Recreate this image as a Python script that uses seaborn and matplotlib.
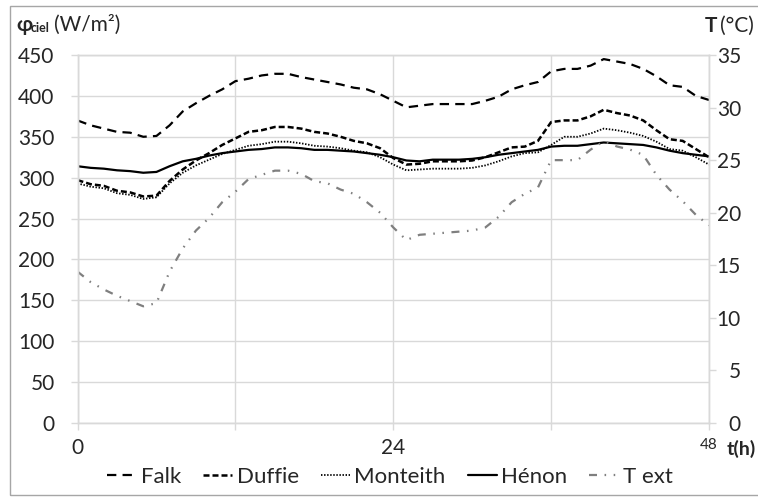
import matplotlib
matplotlib.use("Agg")
import matplotlib.pyplot as plt
from matplotlib.patches import Rectangle
from matplotlib.lines import Line2D
import seaborn as sns
import numpy as np
import pandas as pd

# hourly values
hours = list(range(49))

falk = [370, 364, 360, 356, 355, 350, 351, 364, 381, 391, 400, 408, 418, 421, 425, 427, 427,
        423, 420, 417, 414, 410, 408, 402, 394, 386, 388, 390, 390, 390, 390, 394, 399, 408,
        413, 417, 430, 433, 433, 437, 445, 442, 439, 433, 424, 413, 411, 400, 395]
duffie = [297, 292, 290, 284, 282, 277, 278, 296, 310, 321, 330, 340, 348, 356, 358, 362, 362,
          360, 356, 354, 350, 345, 342, 336, 324, 316, 317, 320, 320, 320, 321, 325, 331, 337,
          338, 345, 368, 370, 370, 375, 383, 379, 376, 370, 358, 347, 345, 335, 325]
monteith = [293, 289, 287, 281, 279, 274, 276, 293, 306, 315, 322, 329, 334, 339, 341, 344, 344,
            342, 339, 338, 336, 333, 331, 325, 316, 309, 310, 311, 311, 311, 312, 315, 320, 326,
            330, 331, 340, 350, 350, 354, 360, 358, 355, 351, 344, 335, 333, 325, 316]
henon = [314, 312, 311, 309, 308, 306, 307, 314, 320, 323, 327, 330, 332, 334, 335, 337, 337,
         336, 334, 334, 333, 332, 330, 328, 325, 321, 320, 322, 322, 322, 323, 325, 328, 330,
         332, 334, 338, 339, 339, 341, 343, 342, 341, 340, 337, 333, 330, 328, 326]
t_ext = [14.4, 13.4, 12.7, 12.1, 11.6, 11.1, 11.4, 14.4, 16.6, 18.3, 19.5, 21.0, 22.0, 23.2,
         23.6, 24.0, 24.0, 23.7, 23.0, 22.8, 22.2, 21.8, 21.0, 20.0, 18.6, 17.4, 17.9, 18.0,
         18.1, 18.2, 18.3, 18.6, 19.6, 21.0, 21.8, 22.4, 25.0, 25.0, 25.0, 26.0, 26.8, 26.3,
         26.0, 25.5, 23.6, 22.2, 21.1, 19.8, 18.8]

series_names = ["Falk", "Duffie", "Monteith", "Hénon"]
xtick_labels = ["0", "", "24", "", "48"]

df = pd.DataFrame({"t": hours, "Falk": falk, "Duffie": duffie,
                   "Monteith": monteith, "Hénon": henon, "T ext": t_ext})

sns.set_style("white")
plt.rcParams["font.family"] = ["Lato", "DejaVu Sans"]

W, H = 758, 497
fig = plt.figure(figsize=(W / 100, H / 100), dpi=100)
ax = fig.add_axes([77.5 / W, 1 - 423 / H, (709 - 77.5) / W, (423 - 55) / H])
ax2 = ax.twinx()

grid_c = "#d9d9d9"
styles = {
    "Falk": dict(color="black", lw=1.6, ls=(0, (4.2, 2.8))),
    "Duffie": dict(color="black", lw=1.8, ls=(0, (2.4, 1.2))),
    "Monteith": dict(color="black", lw=1.3, ls=(0, (0.8, 0.9))),
    "Hénon": dict(color="black", lw=1.6, ls="-"),
    "T ext": dict(color="#7f7f7f", lw=1.6, ls=(0, (3.6, 3.4, 0.7, 3.4, 0.7, 3.4))),
}

for name in series_names:
    st = styles[name]
    sns.lineplot(data=df, x="t", y=name, ax=ax, color=st["color"], linewidth=st["lw"],
                 linestyle=st["ls"], legend=False)
st = styles["T ext"]
sns.lineplot(data=df, x="t", y="T ext", ax=ax2, color=st["color"], linewidth=st["lw"],
             linestyle=st["ls"], legend=False)

ax.set_xlim(0, 48)
ax.set_ylim(0, 450)
ax2.set_ylim(0, 35)
ax.set_xticks([0, 12, 24, 36, 48])
ax.set_xticklabels(xtick_labels)
ax.set_yticks(np.arange(0, 451, 50))
ax2.set_yticks(np.arange(0, 36, 5))
ax.set_xlabel("")
ax.set_ylabel("")
ax2.set_ylabel("")

ax.grid(True, color=grid_c, lw=1)
ax.set_axisbelow(True)
for a in (ax, ax2):
    for sp in a.spines.values():
        sp.set_color(grid_c)
        sp.set_linewidth(1)

ax.tick_params(axis="y", direction="out", length=5, color=grid_c, width=1,
               labelsize=15, pad=11.5, left=True)
ax.tick_params(axis="x", direction="out", length=5, color=grid_c, width=1,
               labelsize=15, pad=6, bottom=True)
ax2.tick_params(axis="y", direction="out", length=5, color=grid_c, width=1,
                labelsize=15, pad=18, right=True)
for lab in ax2.get_yticklabels():
    lab.set_horizontalalignment("right")
ax.get_xticklabels()[-1].set_fontsize(11)

# axis titles
fig.text(16 / W, 1 - 31 / H, "φ", fontsize=15, fontweight="bold", ha="left", va="baseline")
fig.text(31 / W, 1 - 32 / H, "ciel", fontsize=9, fontweight="bold", ha="left", va="baseline")
fig.text(54 / W, 1 - 31 / H, "(W/m²)", fontsize=15, ha="left", va="baseline")
fig.text(705 / W, 1 - 32 / H, "T", fontsize=15, fontweight="bold", ha="left", va="baseline")
fig.text(720 / W, 1 - 32 / H, "(°C)", fontsize=15, ha="left", va="baseline")
fig.text(727 / W, 1 - 449 / H, "t(h)", fontsize=14, fontweight="bold", ha="left", va="center")

handles = [Line2D([], [], color=styles[n]["color"], lw=styles[n]["lw"], ls=styles[n]["ls"])
           for n in series_names + ["T ext"]]
fig.legend(handles, series_names + ["T ext"], loc="center", bbox_to_anchor=(390 / W, 1 - 477 / H),
           ncol=5, frameon=False, fontsize=16, handlelength=1.3, handletextpad=0.2,
           columnspacing=1.0)

fig.patches.append(Rectangle((10 / W, 2 / H), 1, 489 / H, transform=fig.transFigure,
                             fill=False, edgecolor="#a6a6a6", lw=1))

fig.savefig("out.png", dpi=100)
